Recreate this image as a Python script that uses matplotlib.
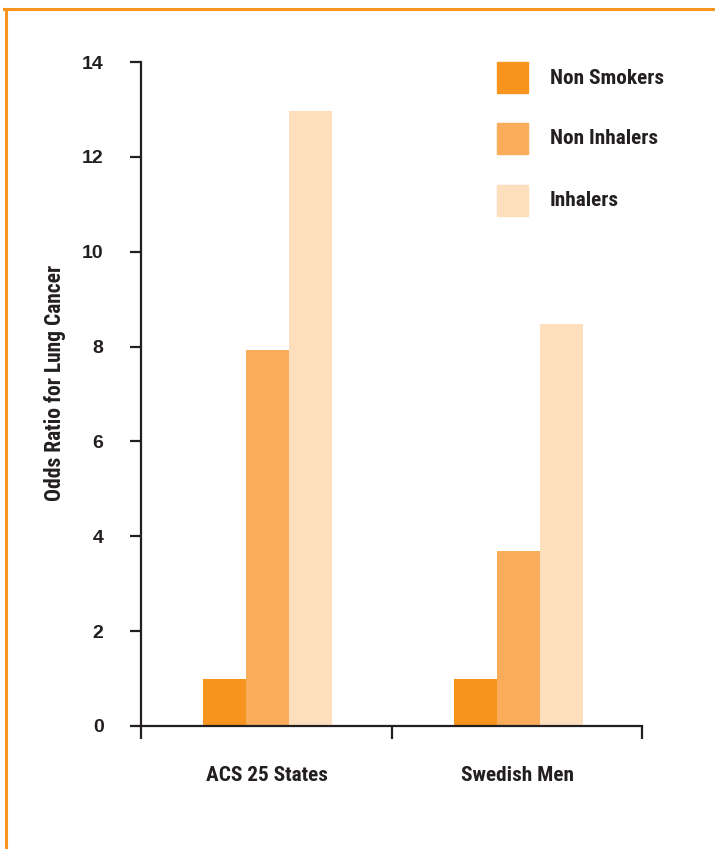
import matplotlib.pyplot as plt
from matplotlib.lines import Line2D
import numpy as np

# data
categories = ["ACS 25 States", "Swedish Men"]
series_names = ["Non Smokers", "Non Inhalers", "Inhalers"]
non_smokers = [1.0, 1.0]
non_inhalers = [7.93, 3.69]
inhalers = [12.97, 8.48]
y_ticks = [0, 2, 4, 6, 8, 10, 12, 14]

colors = ["#F7941E", "#F9AC5A", "#FDDFBE"]
dark = "#231F20"
narrow = ["Roboto Condensed", "Roboto", "DejaVu Sans"]
regular = ["Liberation Sans", "DejaVu Sans"]

W, H = 715, 849
fig = plt.figure(figsize=(W / 100, H / 100), dpi=100)
ax = fig.add_axes([141 / W, 1 - 726 / H, (642 - 141) / W, (726 - 62) / H])

x = np.arange(len(categories))
width = 0.171
for i, (name, vals) in enumerate(zip(series_names, [non_smokers, non_inhalers, inhalers])):
    ax.bar(x + (i - 1) * width + 0.004, vals, width, color=colors[i], label=name, zorder=2)

ax.set_ylim(0, 14)
ax.set_xlim(-0.5, 1.496)
ax.set_yticks(y_ticks)
ax.set_yticklabels([str(v) for v in y_ticks], family=regular, fontweight="bold",
                   fontsize=14, color=dark)
ax.tick_params(axis="y", direction="out", length=8, width=1.6, color=dark, pad=19)

# category labels on major ticks, boundary ticks as minor
ax.set_xticks(x)
ax.set_xticklabels(categories, family=narrow, fontweight="bold", fontsize=15.3, color=dark)
ax.tick_params(axis="x", which="major", length=0, pad=29)
ax.set_xticks([-0.5, 0.5, 1.496], minor=True)
ax.tick_params(axis="x", which="minor", direction="out", length=9, width=1.6, color=dark)

for s in ["top", "right"]:
    ax.spines[s].set_visible(False)
for s in ["left", "bottom"]:
    ax.spines[s].set_linewidth(1.6)
    ax.spines[s].set_color(dark)

fig.text(55 / W, 1 - 383 / H, "Odds Ratio for Lung Cancer", rotation=90,
         ha="center", va="center", family=narrow, fontweight="bold",
         fontsize=15.5, color=dark)

# legend drawn by hand to match spacing
leg_y = [78, 139, 201]
for name, c, yy in zip(series_names, colors, leg_y):
    fig.patches.append(plt.Rectangle((497 / W, 1 - (yy + 15) / H), 31 / W, 31 / H,
                                     transform=fig.transFigure, color=c, figure=fig))
    fig.text(550 / W, 1 - yy / H, name, ha="left", va="center", family=narrow,
             fontweight="bold", fontsize=15.3, color=dark)

# orange frame (top and left only)
orange = "#F7941D"
fig.lines.append(Line2D([5.5 / W, 5.5 / W], [0, 1 - 8.5 / H], transform=fig.transFigure,
                        color=orange, linewidth=2.2))
fig.lines.append(Line2D([4 / W, 1], [1 - 8.5 / H, 1 - 8.5 / H], transform=fig.transFigure,
                        color=orange, linewidth=2.2))

fig.savefig("out.png", dpi=100)
